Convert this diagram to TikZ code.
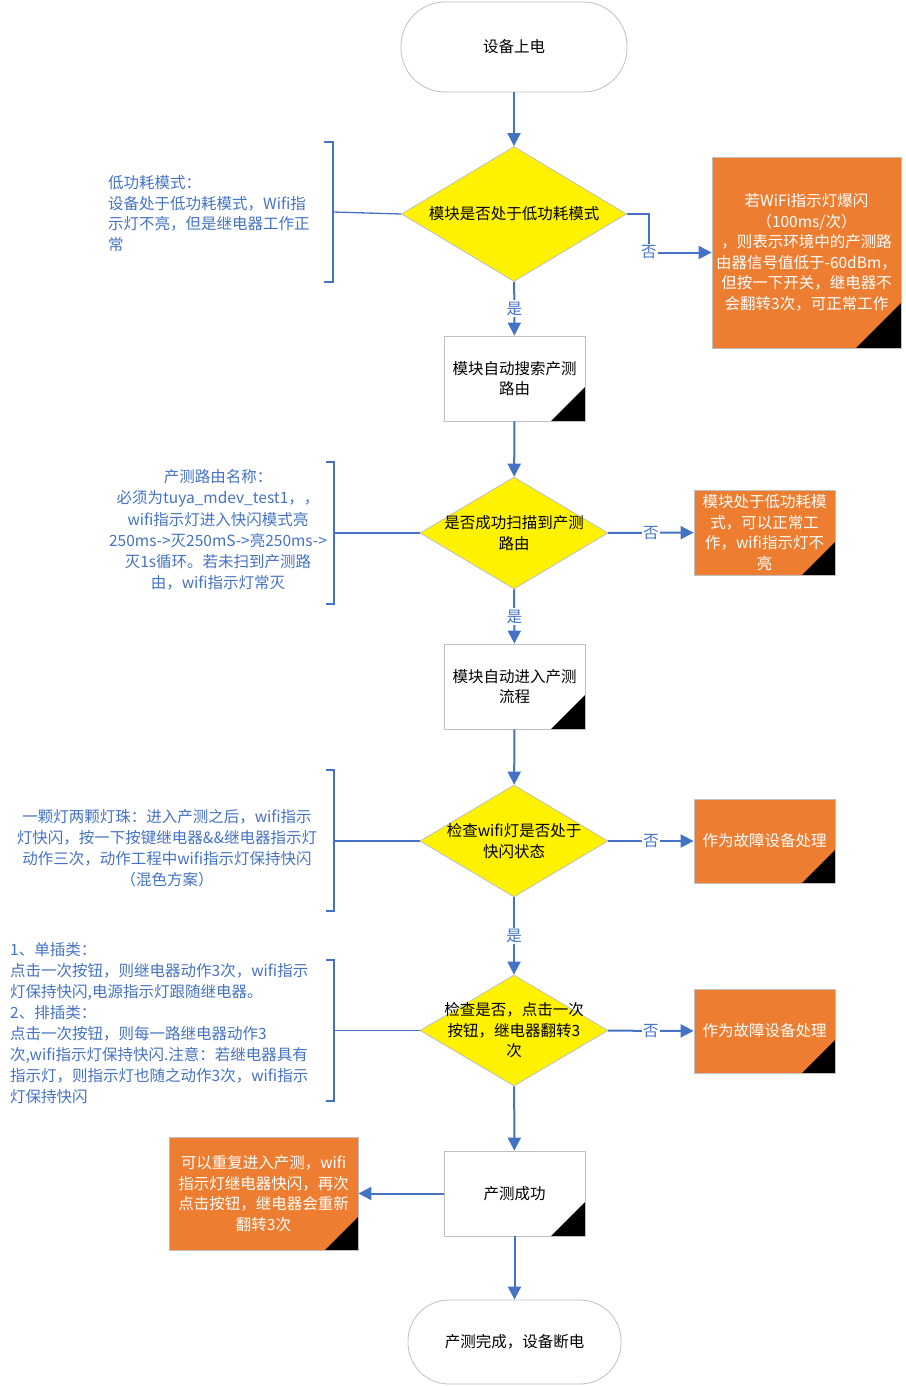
\documentclass[tikz,border=0pt]{standalone}
\usepackage{fontspec}
\setmainfont{Noto Sans CJK SC}
\usetikzlibrary{shapes.geometric,arrows.meta}
\definecolor{conn}{RGB}{68,114,196}
\definecolor{annot}{RGB}{68,114,196}
\definecolor{orng}{RGB}{237,125,49}
\definecolor{edge}{RGB}{191,191,191}
\begin{document}
\begin{tikzpicture}[x=1pt,y=-1pt,
  every node/.style={font=\fontsize{15.5}{20.5}\selectfont, inner sep=0pt},
  term/.style={rectangle, draw=edge, line width=0.8pt, fill=white},
  dia/.style={diamond, draw=edge, line width=0.8pt, fill=yellow},
  dogear/.style={path picture={\fill[black] (path picture bounding box.south east) -- ++(0,-#1) -- ++(-#1,#1) -- cycle;}},
  procbox/.style={rectangle, draw=edge, line width=0.8pt, fill=white, minimum width=141pt, minimum height=85pt, align=center, dogear=34},
  obox/.style={rectangle, draw=edge, line width=0.8pt, fill=orng, text=white, align=center},
  arr/.style={draw=conn, line width=2pt, -{Triangle[length=13pt,width=13pt]}},
  lbl/.style={fill=white, text=conn, inner sep=1.5pt},
  brk/.style={draw=conn, line width=1.3pt},
  annottext/.style={text=annot}
]
\useasboundingbox (0,0) rectangle (905,1386);

% main flow nodes
\node[term, rounded corners=44pt, minimum width=226pt, minimum height=90pt] (start) at (514,47) {设备上电};
\node[dia, minimum width=225pt, minimum height=135pt, label={center:模块是否处于低功耗模式}] (d1) at (514,214) {};
\node[procbox] (b2) at (514.5,378.5) {模块自动搜索产测\\路由};
\node[dia, minimum width=188pt, minimum height=112pt, label={[align=center]center:{是否成功扫描到产测\\路由}}] (d2) at (514,533) {};
\node[procbox] (b3) at (514.5,686.5) {模块自动进入产测\\流程};
\node[dia, minimum width=188pt, minimum height=112pt, label={[align=center]center:{检查wifi灯是否处于\\快闪状态}}] (d3) at (514,841) {};
\node[dia, minimum width=188pt, minimum height=111pt, label={[align=center]center:{检查是否，点击一次\\按钮，继电器翻转3\\次}}] (d4) at (514,1030.5) {};
\node[procbox] (b5) at (514.5,1193.5) {产测成功};
\node[term, rounded corners=41pt, minimum width=213pt, minimum height=84pt] (end) at (514.5,1342) {产测完成，设备断电};

% orange boxes
\node[obox, minimum width=189pt, minimum height=191pt, dogear=45] (o1) at (806.5,252.5)
  {若WiFi指示灯爆闪\\（100ms/次）\\，则表示环境中的产测路\\由器信号值低于-60dBm，\\但按一下开关，继电器不\\会翻转3次，可正常工作};
\node[obox, minimum width=141pt, minimum height=85pt, dogear=33] (o2) at (764.5,532.5)
  {模块处于低功耗模\\式，可以正常工\\作，wifi指示灯不\\亮};
\node[obox, minimum width=141pt, minimum height=84pt, dogear=33] (o3) at (764.5,841) {作为故障设备处理};
\node[obox, minimum width=141pt, minimum height=84pt, dogear=33] (o4) at (764.5,1031) {作为故障设备处理};
\node[obox, minimum width=189pt, minimum height=113pt, dogear=33] (o5) at (263.5,1193.5)
  {可以重复进入产测，wifi\\指示灯继电器快闪，再次\\点击按钮，继电器会重新\\翻转3次};

% connectors
\draw[arr] (start) -- (d1);
\draw[arr] (d1) -- node[lbl]{是} (b2);
\draw[arr] (d1.east) -- ++(22,0) |- node[lbl, pos=0.5]{否} (o1.west);
\draw[arr] (b2) -- (d2);
\draw[arr] (d2) -- node[lbl]{是} (b3);
\draw[arr] (d2) -- node[lbl]{否} (o2);
\draw[arr] (b3) -- (d3);
\draw[arr] (d3) -- node[lbl]{是} (d4);
\draw[arr] (d3) -- node[lbl]{否} (o3);
\draw[arr] (d4) -- (b5);
\draw[arr] (d4) -- node[lbl]{否} (o4);
\draw[arr] (b5) -- (end);
\draw[arr] (b5) -- (o5);

% brackets
\draw[brk] (324,142) -- (333,142) -- (333,282) -- (324,282);
\coordinate (k1) at (333,212);
\draw[brk] (k1) -- (d1.west);
\draw[brk] (326,462) -- (334,462) -- (334,604) -- (326,604);
\coordinate (k2) at (334,533);
\draw[brk] (k2) -- (d2.west);
\draw[brk] (326,770) -- (334,770) -- (334,911) -- (326,911);
\coordinate (k3) at (334,841);
\draw[brk] (k3) -- (d3.west);
\draw[brk] (326,960) -- (334,960) -- (334,1101) -- (326,1101);
\coordinate (k4) at (334,1030.5);
\draw[brk] (k4) -- (d4.west);

% annotations
\node[annottext, anchor=west, align=left] (a1) at (108,213.5)
  {低功耗模式：\\设备处于低功耗模式，Wifi指\\示灯不亮，但是继电器工作正\\常};
\node[annottext, align=center, font=\fontsize{15.5}{21.2}\selectfont] (a2) at (218,530)
  {产测路由名称：\\必须为tuya\_mdev\_test1，，\\wifi指示灯进入快闪模式亮\\250ms->灭250mS->亮250ms->\\灭1s循环。若未扫到产测路\\由，wifi指示灯常灭};
\node[annottext, align=center, font=\fontsize{15.5}{21}\selectfont] (a3) at (167,848.5)
  {一颗灯两颗灯珠：进入产测之后，wifi指示\\灯快闪，按一下按键继电器\&\&继电器指示灯\\动作三次，动作工程中wifi指示灯保持快闪\\（混色方案）};
\node[annottext, anchor=west, align=left, font=\fontsize{15.5}{21.1}\selectfont] (a4) at (10,1023)
  {1、单插类：\\点击一次按钮，则继电器动作3次，wifi指示\\灯保持快闪,电源指示灯跟随继电器。\\2、排插类：\\点击一次按钮，则每一路继电器动作3\\次,wifi指示灯保持快闪.注意：若继电器具有\\指示灯，则指示灯也随之动作3次，wifi指示\\灯保持快闪};
\end{tikzpicture}
\end{document}
